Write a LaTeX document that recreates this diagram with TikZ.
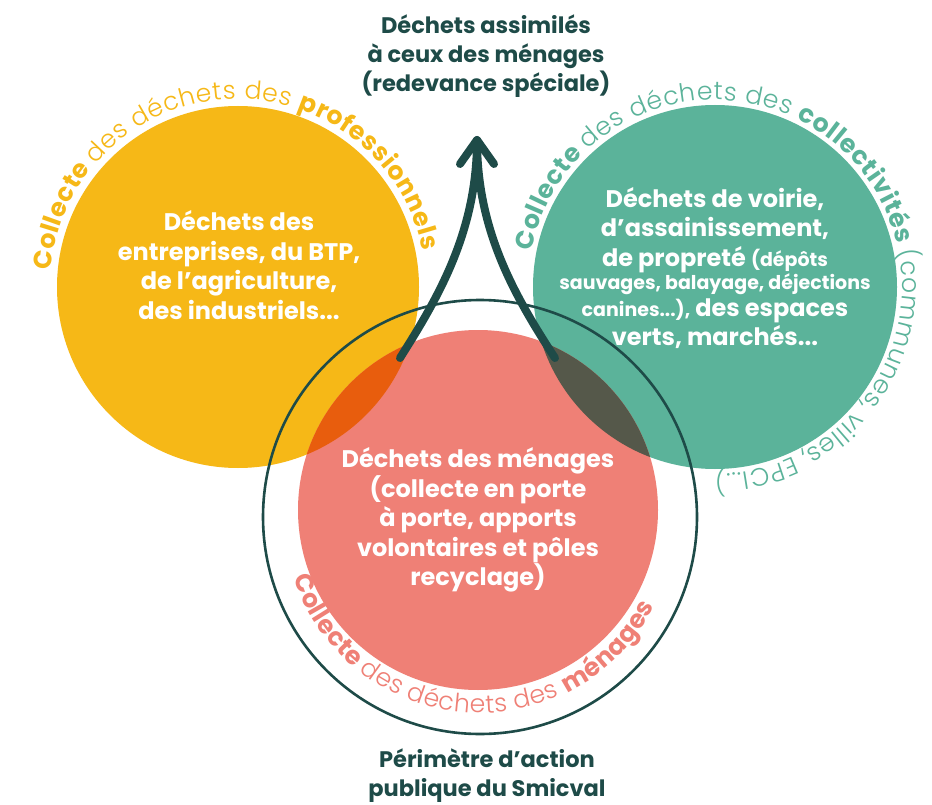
\documentclass[tikz,border=0pt]{standalone}
\usepackage{fontspec}
\setmainfont{Poppins}
\IfFontExistsTF{Poppins Light}{\newfontfamily\plight{Poppins Light}}{\newcommand\plight{\normalfont}}
\usetikzlibrary{decorations.text}
\definecolor{ycol}{HTML}{F6B817}
\definecolor{tcol}{HTML}{5BB39A}
\definecolor{rcol}{HTML}{EF8076}
\definecolor{ocol}{HTML}{E85D0D}
\definecolor{olcol}{HTML}{55584A}
\definecolor{dcol}{HTML}{1E4B48}
\newcommand\cB{\normalfont\bfseries\fontsize{25.2}{25}\selectfont}
\newcommand\cL{\plight\fontsize{25.2}{25}\selectfont}
\newcommand\smalltxt{\fontsize{19}{21}\selectfont}
\tikzset{
  inner/.style={text=white, align=center, font=\bfseries\fontsize{24}{29.5}\selectfont},
  heading/.style={text=dcol, align=center, font=\bfseries\fontsize{22.5}{29}\selectfont},
  arrowline/.style={draw=dcol, line width=8pt, line cap=round, line join=round},
  perim/.style={draw=dcol, line width=2.6pt},
}
\begin{document}
\begin{tikzpicture}[x=1pt,y=1pt]
\useasboundingbox (0,0) rectangle (932,-805);
\fill[white] (0,0) rectangle (932,-805);
\coordinate (Yc) at (238,-287);
\coordinate (Tc) at (715,-287);
\coordinate (Rc) at (478,-510);
\coordinate (Oc) at (480,-517);
% circles
\fill[ycol] (Yc) circle[radius=181];
\fill[tcol] (Tc) circle[radius=182];
\fill[rcol] (Rc) circle[radius=180];
\begin{scope}
  \clip (Rc) circle[radius=180];
  \fill[ocol] (Yc) circle[radius=181];
  \fill[olcol] (Tc) circle[radius=182];
\end{scope}
% perimeter circle
\draw[perim] (Oc) circle[radius=217];
% arrow
\coordinate (aL) at (400,-358);
\coordinate (aR) at (555,-358);
\coordinate (tip) at (477,-140);
\coordinate (hL) at (460,-164);
\coordinate (hR) at (494,-164);
\draw[arrowline] (aL) .. controls (440,-295) and (477,-230) .. (tip);
\draw[arrowline] (aR) .. controls (514,-295) and (477,-230) .. (tip);
\draw[arrowline] (hL) -- (tip) -- (hR);
% curved labels
\path[decorate, decoration={text along path, text color=ycol, text align=fit to path,
  text={|\cB|Collecte |\cL|des déchets des |\cB|professionnels}}]
  (Yc) ++(175:188) arc[start angle=175, end angle=11, radius=188];
\path[decorate, decoration={text along path, text color=tcol, text align=fit to path,
  text={|\cB|Collecte |\cL|des déchets des |\cB|collectivités |\cL|(communes, villes, EPCI...)}}]
  (Tc) ++(169:187) arc[start angle=169, end angle=-90, radius=187];
\path[decorate, decoration={text along path, text color=rcol, text align=fit to path,
  text={|\cB|Collecte |\cL|des déchets des |\cB|ménages}}]
  (Oc) ++(198:196) arc[start angle=198, end angle=333, radius=196];
% texts
\node[inner] (ytext) at (239,-265) {Déchets des\\entreprises, du BTP,\\de l’agriculture,\\des industriels...};
\node[inner] (ttext) at (715,-268) {Déchets de voirie,\\d’assainissement,\\de propreté {\smalltxt(dépôts}\\[-6pt]{\smalltxt sauvages, balayage, déjections}\\[-3pt]{\smalltxt canines...),} des espaces\\verts, marchés...};
\node[inner] (rtext) at (478,-520) {Déchets des ménages\\(collecte en porte\\à porte, apports\\volontaires et pôles\\recyclage)};
\node[heading] (top) at (486,-56) {Déchets assimilés\\à ceux des ménages\\(redevance spéciale)};
\node[heading] (bottom) at (487,-776) {Périmètre d’action\\publique du Smicval};
\end{tikzpicture}
\end{document}
